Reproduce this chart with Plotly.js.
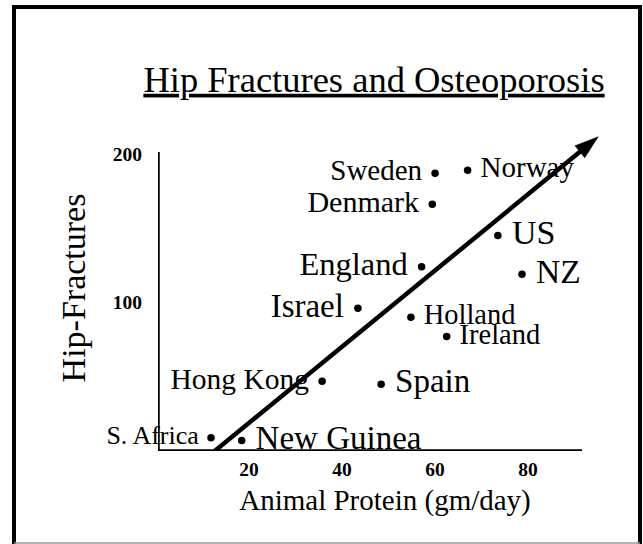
<!DOCTYPE html>
<html>
<head>
<meta charset="utf-8">
<script src="https://cdn.plot.ly/plotly-3.0.1.min.js"></script>
<style>html,body{margin:0;padding:0;background:#fff;}#chart{width:643px;height:544px;}</style>
</head>
<body>
<div id="chart"></div>
<script>
// ---- data ----
const countries = ["Sweden","Norway","Denmark","US","England","NZ","Israel","Holland","Ireland","Hong Kong","Spain","S. Africa","New Guinea"];
const animalProtein = [60.0, 67.0, 59.4, 73.5, 57.1, 78.7, 43.4, 54.8, 62.5, 35.7, 48.4, 11.8, 18.4];
const hipFractures = [187, 189, 166, 145, 124, 119, 96, 90, 77, 47, 45, 9, 7];
const trendProtein = [12.6, 95.1];
const trendFractures = [0, 211.5];
const xTickVals = [20, 40, 60, 80];
const yTickVals = [100, 200];
const xAxisMin = 0.4, xAxisMax = 91.6;   // extent of the drawn axis lines
const yAxisMin = 0, yAxisMax = 201.2;

// ---- styling ----
const SERIF = '"Liberation Serif", "Times New Roman", Times, serif';
const labelSide = ["left","right","left","right","left","right","left","right","right","left","right","left","right"];
const labelSize = [29, 29, 30, 34, 32.5, 33.5, 33, 28.5, 28.5, 29.5, 33, 26, 33];
const NB = '\u00a0';
const labelText = countries.map((c, i) => labelSide[i] === 'left' ? c + NB : NB + c);
const labelPos = labelSide.map(s => 'middle ' + s);

const traces = [
  {
    x: trendProtein, y: trendFractures,
    type: 'scatter', mode: 'lines+markers',
    line: {color: '#000', width: 4.5},
    marker: {symbol: ['circle', 'arrow'], size: [0, 25], color: '#000', opacity: 1, angleref: 'previous', line: {width: 0.5, color: '#000'}},
    cliponaxis: false, hoverinfo: 'skip', showlegend: false
  },
  {
    x: animalProtein, y: hipFractures, text: labelText,
    type: 'scatter', mode: 'markers+text',
    marker: {color: '#000', size: 7.5},
    textposition: labelPos,
    textfont: {family: SERIF, size: labelSize, color: '#000'},
    cliponaxis: false, showlegend: false
  }
];

// plot area spans x 158..612 and y 125..451 px; frame coords converted to paper
const PL = 158, PR = 612, PT = 125, PB = 451;
const px2xp = p => (p - PL) / (PR - PL);
const py2yp = p => (PB - p) / (PB - PT);
const layout = {
  width: 643, height: 544,
  margin: {l: PL, r: 643 - PR, t: PT, b: 544 - PB, pad: 0},
  paper_bgcolor: '#fff', plot_bgcolor: '#fff',
  font: {family: SERIF, color: '#000'},
  showlegend: false,
  title: {
    text: '<u>Hip Fractures and Osteoporosis</u>',
    font: {family: SERIF, size: 36.5, color: '#000'},
    x: 374/643, xanchor: 'center', xref: 'container',
    y: 1 - 79/544, yanchor: 'middle', yref: 'container'
  },
  xaxis: {
    range: [0.4, 98.06], showgrid: false, zeroline: false, showline: false,
    tickvals: xTickVals, ticks: '', ticklabelstandoff: 4,
    tickfont: {family: SERIF, size: 19.5, weight: 'bold', color: '#000'},
    title: {text: 'Animal Protein (gm/day)', font: {family: SERIF, size: 29, color: '#000'}, standoff: 11}
  },
  yaxis: {
    range: [0, 219.4], showgrid: false, zeroline: false, showline: false,
    tickvals: yTickVals, ticks: '', ticklabelstandoff: 15,
    tickfont: {family: SERIF, size: 19.5, weight: 'bold', color: '#000'},
    title: {text: 'Hip-Fractures', font: {family: SERIF, size: 34, color: '#000'}, standoff: 16}
  },
  shapes: [
    // axis lines
    {type: 'line', xref: 'x', yref: 'y', x0: xAxisMin, x1: xAxisMax, y0: yAxisMin, y1: yAxisMin, line: {color: '#000', width: 3.5}},
    {type: 'line', xref: 'x', yref: 'y', x0: xAxisMin, x1: xAxisMin, y0: yAxisMin, y1: yAxisMax, line: {color: '#000', width: 3.5}},
    // outer frame
    {type: 'line', xref: 'paper', yref: 'paper', x0: px2xp(14), x1: px2xp(14), y0: py2yp(550), y1: py2yp(5), line: {color: '#000', width: 4}},
    {type: 'line', xref: 'paper', yref: 'paper', x0: px2xp(12), x1: px2xp(642), y0: py2yp(7), y1: py2yp(7), line: {color: '#000', width: 4}},
    {type: 'line', xref: 'paper', yref: 'paper', x0: px2xp(640), x1: px2xp(640), y0: py2yp(550), y1: py2yp(5), line: {color: '#000', width: 4}},
    {type: 'line', xref: 'paper', yref: 'paper', x0: px2xp(14), x1: px2xp(640), y0: py2yp(543), y1: py2yp(543), line: {color: '#999', width: 1.5}}
  ]
};

Plotly.newPlot('chart', traces, layout, {staticPlot: true, displayModeBar: false});
</script>
</body>
</html>
